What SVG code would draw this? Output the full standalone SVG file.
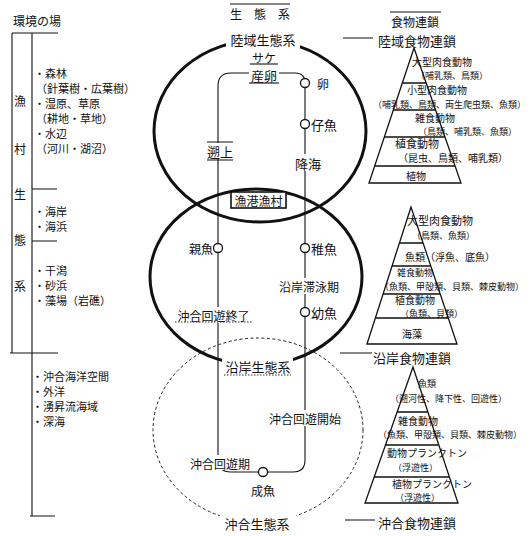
<svg xmlns="http://www.w3.org/2000/svg" width="532" height="536" viewBox="0 0 532 536">
<style>
text{font-family:"Noto Sans CJK JP","Noto Sans CJK SC",sans-serif;fill:#111;dominant-baseline:central}
.thick{fill:none;stroke:#111;stroke-width:3}
.thin{fill:none;stroke:#111;stroke-width:1.1}
.dash{fill:none;stroke:#222;stroke-width:1;stroke-dasharray:3 2.5}
.dot{fill:none;stroke:#333;stroke-width:1;stroke-dasharray:1.5 1.5}
.bg{fill:#fff}
.node{fill:#fff;stroke:#111;stroke-width:1.3}
.pyr{fill:none;stroke:#111;stroke-width:1.3}
.s8{font-size:8.5px}.s9{font-size:9px}.s10{font-size:10px}.s11{font-size:11px}.s12{font-size:12px}.s13{font-size:13px}
.m{text-anchor:middle}
</style>

<!-- headers -->
<g id="header-env">
<text x="13" y="20" class="s12">環境の場</text>
<path class="thin" d="M12,33H58"/>
</g>
<g id="header-eco">
<path class="thin" d="M230,4H290"/>
<text x="236 260 284" y="13" class="s12 m">生態系</text>
</g>
<g id="header-food">
<path class="thin" d="M390,12H441"/>
<text x="415" y="21" class="s12 m">食物連鎖</text>
</g>

<!-- left bracket -->
<g id="bracket">
<path class="thin" d="M12,33V353M10,353H58M32,33V516M30,516H55M32,189H57M32,241H57"/>
<text x="20" y="100" class="s12 m">漁</text>
<text x="20" y="148" class="s12 m">村</text>
<text x="20" y="193" class="s12 m">生</text>
<text x="20" y="239" class="s12 m">態</text>
<text x="20" y="285" class="s12 m">系</text>
</g>
<g id="env-land" class="s11">
<text x="34" y="73">・森林</text>
<text x="36" y="88">（針葉樹・広葉樹）</text>
<text x="34" y="103">・湿原、草原</text>
<text x="36" y="118">（耕地・草地）</text>
<text x="34" y="133">・水辺</text>
<text x="36" y="148">（河川・湖沼）</text>
</g>
<g id="env-coast" class="s11">
<text x="34" y="211">・海岸</text>
<text x="34" y="226">・海浜</text>
<text x="34" y="270">・干潟</text>
<text x="34" y="285">・砂浜</text>
<text x="34" y="300">・藻場（岩礁）</text>
</g>
<g id="env-ocean" class="s11">
<text x="32" y="376">・沖合海洋空間</text>
<text x="32" y="391">・外洋</text>
<text x="32" y="406">・湧昇流海域</text>
<text x="32" y="421">・深海</text>
</g>

<!-- ecosystem circles -->
<g id="eco-land">
<ellipse class="thick" cx="260" cy="131" rx="106" ry="91"/>
</g>
<g id="eco-coast">
<ellipse class="thick" cx="256" cy="277" rx="106" ry="88"/>
</g>
<g id="eco-ocean">
<ellipse class="dash" cx="258" cy="430" rx="105" ry="92"/>
</g>

<!-- connectors -->
<g id="connectors">
<path class="thin" d="M250,73H231Q218,73 218,86V459Q218,472 231,472H293Q305,472 305,460V83Q305,73 295,73H277"/>
<path class="thin" d="M343,38H373M340,353H372M345,520H375"/>
</g>

<!-- labels on circles -->
<g id="label-land">
<rect class="bg" x="226" y="30" width="74" height="18"/>
<text x="263" y="39" class="s13 m">陸域生態系</text>
</g>
<g id="label-coast">
<rect class="bg" x="222" y="358" width="71" height="17"/>
<text x="258" y="366" class="s13 m">沿岸生態系</text>
<path class="dot" d="M224,375H291"/>
</g>
<g id="label-ocean">
<rect class="bg" x="220" y="514" width="76" height="18"/>
<text x="257" y="523" class="s13 m">沖合生態系</text>
</g>
<g id="fishing-village">
<rect x="231" y="192" width="55" height="16" fill="#fff" stroke="#111" stroke-width="1.6"/>
<text x="258.5" y="200" class="s12 m">漁港漁村</text>
</g>

<!-- route labels -->
<g id="salmon">
<text x="264" y="57" class="s12 m">サケ</text>
<path class="thin" d="M250,64H278"/>
</g>
<g id="spawn">
<rect class="bg" x="249" y="66" width="30" height="16"/>
<text x="264" y="75" class="s13 m">産卵</text>
<path class="thin" d="M249,83H279"/>
</g>
<g id="upstream">
<rect class="bg" x="206" y="143" width="28" height="16"/>
<path class="thin" d="M207,142H233M207,160H233"/>
<text x="220" y="151" class="s13 m">遡上</text>
</g>
<g id="descend">
<rect class="bg" x="294" y="154" width="28" height="17"/>
<text x="308" y="163" class="s13 m">降海</text>
</g>
<g id="coastal-stay">
<rect class="bg" x="277" y="278" width="64" height="16"/>
<text x="309" y="286" class="s12 m">沿岸滞泳期</text>
</g>
<g id="return-end">
<rect class="bg" x="174" y="307" width="79" height="16"/>
<text x="213.5" y="315" class="s12 m">沖合回遊終了</text>
<path class="dot" d="M175,322H252"/>
</g>
<g id="return-start">
<rect class="bg" x="267" y="410" width="76" height="16"/>
<text x="305" y="418" class="s12 m">沖合回遊開始</text>
</g>
<g id="offshore-period">
<rect class="bg" x="187" y="455" width="66" height="15"/>
<text x="220" y="463" class="s12 m">沖合回遊期</text>
</g>

<!-- life stage nodes -->
<g id="egg">
<circle class="node" cx="305" cy="83" r="4.5"/>
<text x="317" y="83" class="s12">卵</text>
</g>
<g id="fry">
<circle class="node" cx="305" cy="124" r="4.5"/>
<text x="311" y="124" class="s13">仔魚</text>
</g>
<g id="parent">
<circle class="node" cx="218" cy="248" r="4.5"/>
<text x="213" y="248" class="s12" text-anchor="end">親魚</text>
</g>
<g id="juvenile">
<circle class="node" cx="305" cy="248" r="4.5"/>
<text x="311" y="248" class="s13">稚魚</text>
</g>
<g id="young">
<circle class="node" cx="305" cy="312" r="4.5"/>
<text x="311" y="312" class="s13">幼魚</text>
</g>
<g id="adult">
<circle class="node" cx="263" cy="472" r="4.5"/>
<text x="263" y="490" class="s12 m">成魚</text>
</g>

<!-- food chains -->
<g id="chain-land">
<text x="378" y="40" class="s13">陸域食物連鎖</text>
<path class="pyr" d="M414,48L369,183H461ZM402,83H426M393,110H436M384,137H445M375,166H455"/>
<text x="412" y="61" class="s10">大型肉食動物</text>
<text x="416" y="75" class="s9">（哺乳類、鳥類）</text>
<text x="407" y="89" class="s10">小型肉食動物</text>
<text x="373" y="104" class="s9">（哺乳類、鳥類、両生爬虫類、魚類）</text>
<text x="415" y="117" class="s10">雑食動物</text>
<text x="418" y="131" class="s9">（鳥類、哺乳類、魚類）</text>
<text x="395" y="143" class="s11">植食動物</text>
<text x="398" y="157" class="s10">（昆虫、鳥類、哺乳類）</text>
<text x="416" y="175" class="s10 m">植物</text>
</g>
<g id="chain-coast">
<path class="pyr" d="M411,207L367,344H457ZM400,243H423M392,266H431M383,294H440M375,318H448"/>
<text x="407" y="220" class="s11">大型肉食動物</text>
<text x="412" y="235" class="s9">（鳥類、魚類）</text>
<text x="405" y="256" class="s10">魚類（浮魚、底魚）</text>
<text x="397" y="272.5" class="s9">雑食動物</text>
<text x="380" y="286" class="s9">（魚類、甲殻類、貝類、棘皮動物）</text>
<text x="395" y="299.5" class="s10">植食動物</text>
<text x="400" y="313.5" class="s9">（魚類、貝類）</text>
<text x="412" y="333" class="s10 m">海藻</text>
<text x="373" y="357" class="s13">沿岸食物連鎖</text>
</g>
<g id="chain-ocean">
<path class="pyr" d="M413,367L365,503H458ZM397,412H428M385,445H439M374,477H449"/>
<text x="418" y="383" class="s9">魚類</text>
<text x="390" y="398" class="s9">（遡河性、降下性、回遊性）</text>
<text x="398" y="420" class="s10">雑食動物</text>
<text x="378" y="434.5" class="s9">（魚類、甲殻類、貝類、棘皮動物）</text>
<text x="387" y="452" class="s10">動物プランクトン</text>
<text x="393" y="467" class="s9">（浮遊性）</text>
<text x="392" y="483" class="s10">植物プランクトン</text>
<text x="395" y="497" class="s9">（浮遊性）</text>
<text x="378" y="522" class="s13">沖合食物連鎖</text>
</g>
</svg>
